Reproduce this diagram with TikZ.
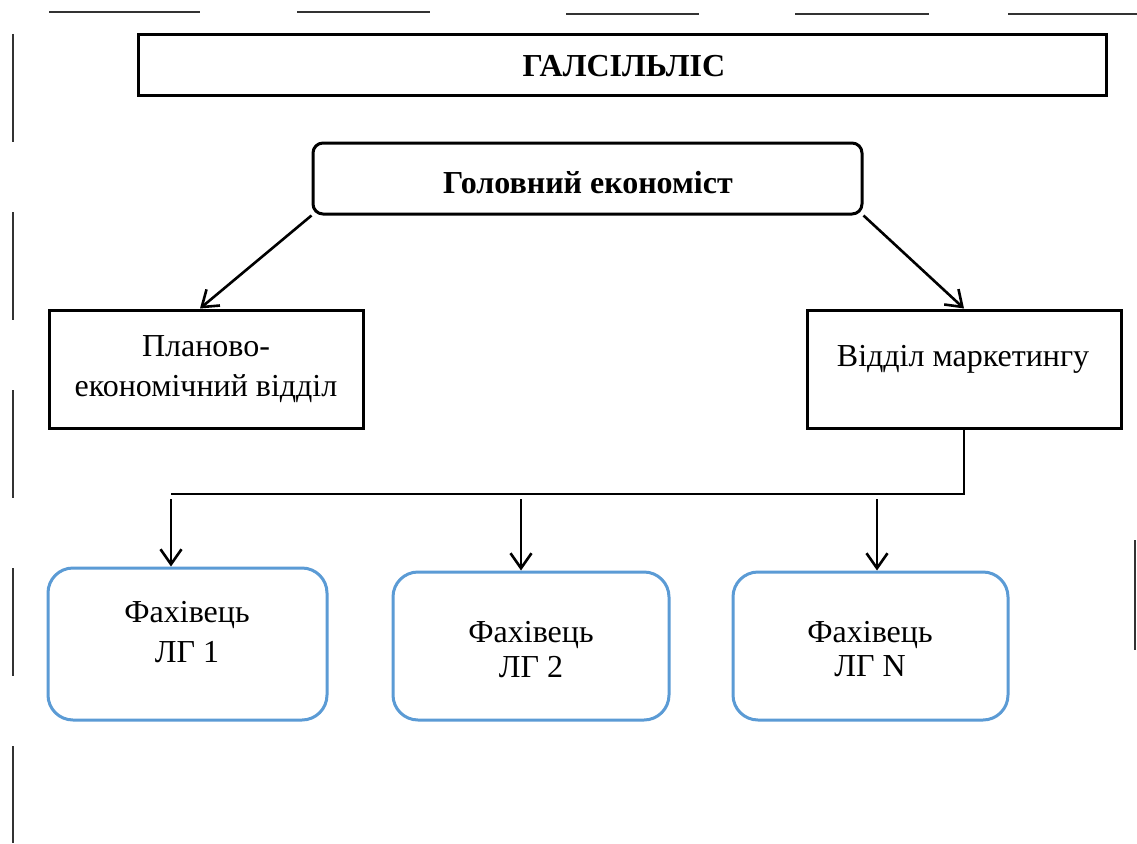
\documentclass[tikz,border=0pt]{standalone}
\usepackage{fontspec}
\setmainfont{Liberation Serif}
\usetikzlibrary{arrows.meta}
\definecolor{boxblue}{HTML}{5B9BD5}
\definecolor{edgegray}{HTML}{333333}
\tikzset{
  sqbox/.style={draw=black, line width=3pt, rectangle, inner sep=0pt},
  rbox/.style={draw=black, line width=3pt, rectangle, rounded corners=10pt, inner sep=0pt},
  bluebox/.style={draw=boxblue, line width=3pt, rectangle, rounded corners=25pt, inner sep=0pt},
  txt/.style={font=\fontsize{32}{36}\selectfont, anchor=base, inner sep=0pt},
  btxt/.style={font=\fontsize{32}{36}\selectfont\bfseries, anchor=base, inner sep=0pt},
  arr/.style={line width=2.6pt, -{Straight Barb[length=15pt,width=21pt,line width=2.6pt]}},
  thinline/.style={line width=1.5pt},
  margin/.style={draw=edgegray, line width=1.8pt},
}
\begin{document}
\begin{tikzpicture}[x=1pt,y=-1pt]
\useasboundingbox (0,0) rectangle (1137,843);
\fill[white] (0,0) rectangle (1137,843);

% page-margin marks
\draw[margin] (49,12) -- (200,12);
\draw[margin] (297,12) -- (430,12);
\draw[margin] (566,14) -- (699,14);
\draw[margin] (795,14) -- (929,14);
\draw[margin] (1008,14) -- (1137,14);
\draw[margin] (13,34) -- (13,142);
\draw[margin] (13,212) -- (13,320);
\draw[margin] (13,390) -- (13,498);
\draw[margin] (13,568) -- (13,676);
\draw[margin] (13,746) -- (13,843);
\draw[margin] (1135,540) -- (1135,650);

% boxes
\node[sqbox, minimum width=968pt, minimum height=61pt] (title) at (622,65) {};
\node[btxt] (ttitle) at (624,77) {ГАЛСІЛЬЛІС};

\node[rbox, minimum width=549pt, minimum height=71pt] (gol) at (587.5,178.5) {};
\node[btxt] (tgol) at (588,193) {Головний економіст};

\node[sqbox, minimum width=314pt, minimum height=118pt] (plan) at (206,369) {};
\node[txt] (tplan1) at (206,356) {Планово-};
\node[txt] (tplan2) at (206,396) {економічний відділ};

\node[sqbox, minimum width=314pt, minimum height=118pt] (vid) at (964,369) {};
\node[txt] (tvid) at (963,366) {Відділ маркетингу};

\node[bluebox, minimum width=279pt, minimum height=152pt] (b1) at (187.5,644) {};
\node[txt] (tb1a) at (187,622) {Фахівець};
\node[txt] (tb1b) at (187,662) {ЛГ 1};

\node[bluebox, minimum width=276pt, minimum height=148pt] (b2) at (531,646) {};
\node[txt] (tb2a) at (531,642) {Фахівець};
\node[txt] (tb2b) at (531,677) {ЛГ 2};

\node[bluebox, minimum width=275pt, minimum height=148pt] (b3) at (870.5,646) {};
\node[txt] (tb3a) at (870,642) {Фахівець};
\node[txt] (tb3b) at (870,676) {ЛГ N};

% connectors
\draw[arr] (gol.south west) -- ([xshift=-6pt]plan.north);
\draw[arr] (gol.south east) -- (vid.north);

\coordinate (hl) at (171,494);
\draw[thinline] (vid.south) |- (hl);

\coordinate (a1) at (171,499);
\coordinate (a2) at (521,499);
\coordinate (a3) at (877,499);
\draw[arr] (a1) -- (b1.north -| a1);
\draw[arr] (a2) -- (b2.north -| a2);
\draw[arr] (a3) -- (b3.north -| a3);
\end{tikzpicture}
\end{document}
